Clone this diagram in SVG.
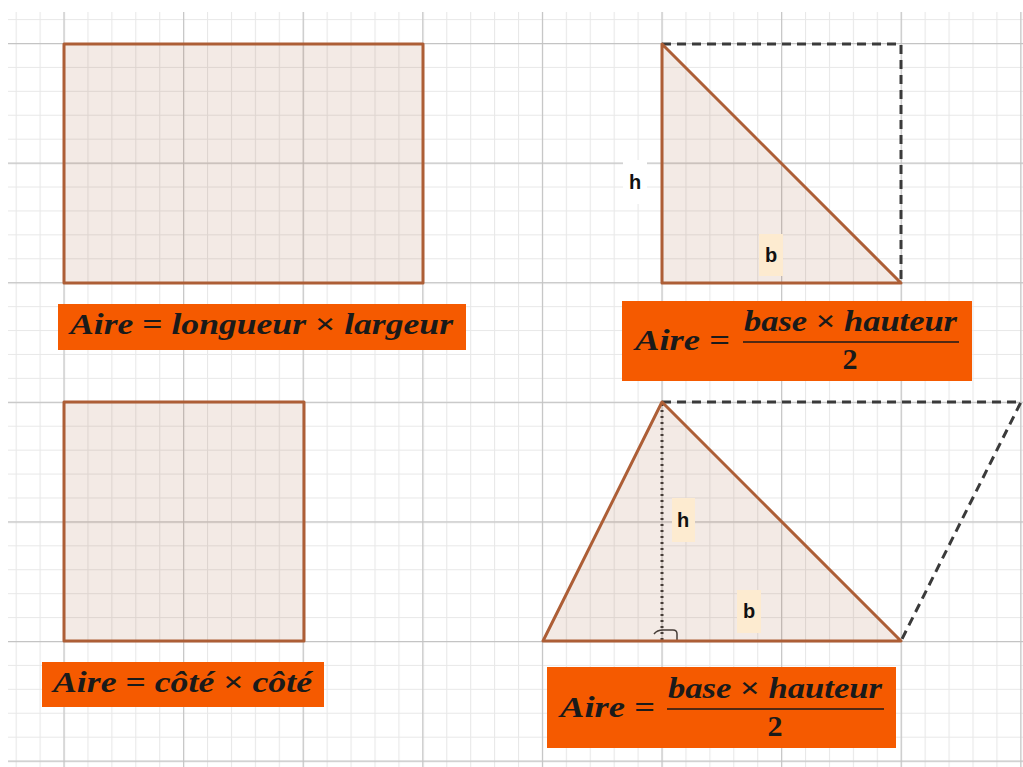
<svg xmlns="http://www.w3.org/2000/svg" width="1023" height="767" viewBox="0 0 1023 767">
<style>
.shape{fill:#a0522d;fill-opacity:0.12;stroke:#ad5e36;stroke-width:3;stroke-linejoin:round}
.dash{fill:none;stroke:#3a3a3a;stroke-width:3;stroke-dasharray:9,6}
.dot{fill:none;stroke:#3a3a3a;stroke-width:3;stroke-dasharray:2,4}
.box{fill:#f55a00}
.math{font-family:"Liberation Serif","DejaVu Serif",serif;font-weight:bold;font-style:italic;fill:#1a1a1a;font-size:30px}
.up{font-style:normal}
.lbl{font-family:"Liberation Sans",Arial,sans-serif;font-weight:bold;font-size:20px;fill:#111;text-anchor:middle}
.frac{stroke:#1a1a1a;stroke-width:1.6}
</style>
<defs>
<pattern id="minor" patternUnits="userSpaceOnUse" x="63.5" y="43" width="23.92" height="23.92">
<path d="M0.5,0 V23.92 M0,0.5 H23.92" stroke="#e8e8e8" stroke-width="1.2" fill="none"/>
</pattern>
<pattern id="major" patternUnits="userSpaceOnUse" x="63.5" y="43" width="119.6" height="119.6">
<path d="M0.5,0 V119.6 M0,0.5 H119.6" stroke="#c4c4c4" stroke-width="1.3" fill="none"/>
</pattern>
</defs>
<rect width="1023" height="767" fill="#ffffff"/>
<g id="grid">
<rect x="8" y="12" width="1015" height="755" fill="url(#minor)"/>
<rect x="8" y="12" width="1015" height="755" fill="url(#major)"/>
</g>

<g id="rectangle">
<rect class="shape" x="64" y="44" width="359" height="239"/>
</g>
<g id="formula-rectangle">
<rect class="box" x="58" y="304" width="408" height="46"/>
<text class="math" x="70" y="334" textLength="383" lengthAdjust="spacingAndGlyphs">Aire <tspan class="up">=</tspan> longueur <tspan class="up">×</tspan> largeur</text>
</g>

<g id="square">
<rect class="shape" x="64" y="402" width="240" height="239"/>
</g>
<g id="formula-square">
<rect class="box" x="42" y="662" width="282" height="45"/>
<text class="math" x="53" y="692" textLength="259" lengthAdjust="spacingAndGlyphs">Aire <tspan class="up">=</tspan> côté <tspan class="up">×</tspan> côté</text>
</g>

<g id="connectors">
<polyline class="dash" points="662,44 901,44 901,283"/>
<polyline class="dash" points="662,402 1021,402 901,641"/>
<line class="dot" x1="662" y1="404" x2="662" y2="640"/>
<path d="M654,634 Q657,630 663,630 L673,630 Q677,630 677,634 L677,641" fill="none" stroke="#3a3a3a" stroke-width="1.5"/>
</g>

<g id="right-triangle">
<polygon class="shape" points="662,44 662,283 901,283"/>
<rect x="623" y="160" width="24" height="44" fill="#ffffff"/>
<text class="lbl" x="635" y="189">h</text>
<rect x="759" y="234" width="24" height="42" fill="#fdebd0"/>
<text class="lbl" x="771" y="262">b</text>
</g>
<g id="formula-triangle-1">
<rect class="box" x="622" y="301" width="350" height="80"/>
<text class="math" x="635" y="350" textLength="95" lengthAdjust="spacingAndGlyphs">Aire <tspan class="up">=</tspan></text>
<text class="math" x="744" y="331" textLength="213" lengthAdjust="spacingAndGlyphs">base <tspan class="up">×</tspan> hauteur</text>
<line class="frac" x1="743" y1="342" x2="959" y2="342"/>
<text class="math up" x="850" y="369" text-anchor="middle">2</text>
</g>

<g id="triangle">
<polygon class="shape" points="543,641 662,402 901,641"/>
<rect x="672" y="498" width="23" height="44" fill="#fdebd0"/>
<text class="lbl" x="683" y="527">h</text>
<rect x="737" y="590" width="24" height="43" fill="#fdebd0"/>
<text class="lbl" x="749" y="618">b</text>
</g>
<g id="formula-triangle-2">
<rect class="box" x="547" y="667" width="349" height="81"/>
<text class="math" x="560" y="717" textLength="95" lengthAdjust="spacingAndGlyphs">Aire <tspan class="up">=</tspan></text>
<text class="math" x="668" y="698" textLength="214" lengthAdjust="spacingAndGlyphs">base <tspan class="up">×</tspan> hauteur</text>
<line class="frac" x1="667" y1="709" x2="884" y2="709"/>
<text class="math up" x="775" y="736" text-anchor="middle">2</text>
</g>
</svg>
